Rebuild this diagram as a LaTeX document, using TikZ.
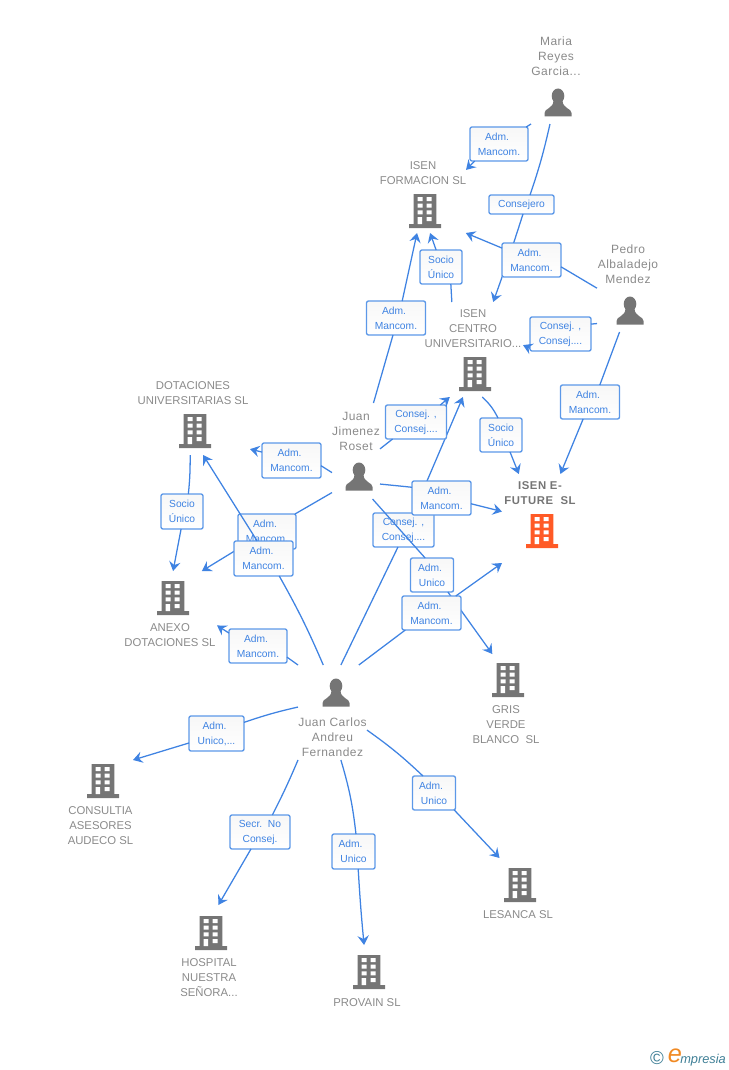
\documentclass[tikz,border=0pt]{standalone}
\usepackage{fontspec}
\setmainfont{Liberation Sans}
\usetikzlibrary{arrows.meta}
\definecolor{azul}{HTML}{3F83E2}
\definecolor{azulcaja}{HTML}{5C98E8}
\definecolor{grisicono}{HTML}{757575}
\definecolor{gristexto}{HTML}{8A8A8A}
\definecolor{naranja}{HTML}{FF5A26}
\definecolor{logoazul}{HTML}{3F7F96}
\definecolor{logonaranja}{HTML}{F08A24}
\newcommand{\adm}{Adm.\kern3pt}
\newcommand{\admu}{Adm.\kern4.5pt}
\tikzset{
    x=.75pt, y=-.75pt,
    >={Stealth[length=7pt,width=8.5pt,inset=2.5pt]},
    marco/.style 2 args={rectangle, inner sep=0pt, outer sep=0pt, minimum width=#1*.75pt, minimum height=#2*.75pt},
    caja/.style 2 args={rectangle, rounded corners=1.5pt, draw=azulcaja, line width=1pt, top color=black!3, bottom color=white,
        text=azul, align=center, inner sep=0pt, outer sep=0pt, minimum width=#1*.75pt, minimum height=#2*.75pt,
        font=\fontsize{7.7}{11.25}\selectfont},
    enlace/.style={draw=azul, line width=.95pt},
    nombre/.style={text=gristexto, align=center, inner sep=0pt, yshift=-.75pt, font=\fontsize{8.5}{11.25}\selectfont},
    gente/.style={nombre, font=\fontsize{9}{11.25}\selectfont\addfontfeature{LetterSpace=4}},
    pics/edificio/.style={code={
        \fill[#1] (-11.3,-17) rectangle (11.3,13) (-16,13) rectangle (16,17);
        \fill[white] (-7.5,-14) rectangle (-2.5,-10) (1.5,-14) rectangle (6.5,-10)
            (-7.5,-7.3) rectangle (-2.5,-3.3) (1.5,-7.3) rectangle (6.5,-3.3)
            (-7.5,-.6) rectangle (-2.5,3.4) (1.5,-.6) rectangle (6.5,3.4)
            (-7.5,6) rectangle (-3,13) (1.5,6) rectangle (6.5,10);
    }},
    pics/edificio/.default=grisicono,
    pics/persona/.style={code={
        \fill[grisicono] (0,-7) ellipse (6.3 and 7.5);
        \fill[grisicono] (-13.5,13.5) -- (-13.5,10) .. controls (-13.5,5.5) and (-5,5.5) .. (-4.5,-2)
            -- (4.5,-2) .. controls (5,5.5) and (13.5,5.5) .. (13.5,10) -- (13.5,13.5) -- cycle;
    }}
}
\begin{document}
\begin{tikzpicture}
    \useasboundingbox (0,0) rectangle (728,1070);

    % personas
    \node[marco={54}{91}] (maria) at (558,78.5) {};
    \node[gente] (marialbl) at (556,55.5) {Maria\\Reyes\\Garcia...};
    \pic at (558,103) {persona};
    \node[marco={63}{92}] (pedro) at (628.5,286) {};
    \node[gente] (pedrolbl) at (628,263) {Pedro\\Albaladejo\\Mendez};
    \pic at (630,311) {persona};
    \node[marco={48}{96}] (juanj) at (356,451) {};
    \node[gente] (juanjlbl) at (356,430) {Juan\\Jimenez\\Roset};
    \pic at (359,477) {persona};
    \node[marco={69}{95}] (juanc) at (332.5,712.5) {};
    \node[gente] (juanclbl) at (332.5,736) {Juan Carlos\\Andreu\\Fernandez};
    \pic at (336,693) {persona};

    % empresas
    \node[marco={87}{78}] (form) at (422.5,194) {};
    \node[nombre] (formlbl) at (423,172.5) {ISEN\\FORMACION SL};
    \pic at (425,211) {edificio};
    \node[marco={100}{95}] (centro) at (473,349.5) {};
    \node[nombre] (centrolbl) at (473,328) {ISEN\\CENTRO\\UNIVERSITARIO...};
    \pic at (475,374) {edificio};
    \node[marco={79}{89}] (future) at (541.5,518.5) {};
    \node[nombre, text=grisicono, font=\fontsize{8.5}{11.25}\bfseries\selectfont\addfontfeature{LetterSpace=5}] (futurelbl) at (540,492.5) {ISEN E-\\FUTURE\ \ SL};
    \pic at (542,531) {edificio=naranja};
    \node[marco={113}{77}] (dot) at (193.5,416.5) {};
    \node[nombre] (dotlbl) at (193,392.5) {DOTACIONES\\UNIVERSITARIAS SL};
    \pic at (195,431) {edificio};
    \node[marco={92}{79}] (anexo) at (171,610.5) {};
    \node[nombre] (anexolbl) at (170,634.5) {ANEXO\\DOTACIONES SL};
    \pic at (173,598) {edificio};
    \node[marco={73}{94}] (gris) at (508.5,701) {};
    \node[nombre] (grislbl) at (506,724) {GRIS\\VERDE\\BLANCO\ \ SL};
    \pic at (508,680) {edificio};
    \node[marco={65}{88}] (consul) at (100.5,804) {};
    \node[nombre] (consullbl) at (100.5,825) {CONSULTIA\\ASESORES\\AUDECO SL};
    \pic at (103,781) {edificio};
    \node[marco={60}{95}] (hosp) at (210,952.5) {};
    \node[nombre] (hosplbl) at (209,977) {HOSPITAL\\NUESTRA\\SEÑORA...};
    \pic at (211,933) {edificio};
    \node[marco={69}{65}] (prov) at (367.5,977.5) {};
    \node[nombre] (provlbl) at (367,1002) {PROVAIN SL};
    \pic at (369,972) {edificio};
    \node[marco={72}{64}] (les) at (518,890) {};
    \node[nombre] (leslbl) at (518,914) {LESANCA SL};
    \pic at (520,885) {edificio};

    % enlaces de Maria
    \node[caja={58}{34}] (m1) at (499,144) {\adm\\Mancom.};
    \draw[enlace] (maria.south west) -- (m1.32);
    \draw[enlace,->] (m1.215) -- (form.29);
    \node[caja={65}{19}] (m2) at (521.5,204.5) {Consejero};
    \draw[enlace] (maria.-100) to[bend left=3] (m2.48);
    \draw[enlace,->] (m2.-81) to[bend left=1] (centro.67);

    % enlaces de Pedro
    \node[caja={59}{34}] (p1) at (531.5,260) {\adm\\Mancom.};
    \draw[enlace] (pedro.184) -- (p1.-13);
    \draw[enlace,->] (p1.158) -- (form.-42.5);
    \node[caja={61}{34}] (p2) at (560.5,334) {Consej. ,\\Consej....};
    \draw[enlace] (pedro.230) -- (p2.18);
    \draw[enlace,->] (p2.205) -- (centro.5);
    \node[caja={59}{34}] (p3) at (590,402) {\adm\\Mancom.};
    \draw[enlace] (pedro.-101.7) -- (p3.60);
    \draw[enlace,->] (p3.-112) -- (future.67.4);

    % centro y formacion
    \node[caja={42}{34}] (c1) at (441,267) {Socio\\Único};
    \draw[enlace] (centro.114) -- (c1.-60);
    \draw[enlace,->] (c1.106) -- (form.-79);
    \node[caja={42}{34}] (c2) at (501,435) {Socio\\Único};
    \draw[enlace] (centro.-79) to[bend left=10] (c2.100);
    \draw[enlace,->] (c2.-62) -- (future.117.8);

    % enlaces de Juan Carlos, primera parte
    \node[caja={61}{34}] (jc1) at (403.5,530) {Consej. ,\\Consej....};
    \draw[enlace] (juanc.80) -- (jc1.-108);
    \draw[enlace,->] (jc1.60.8) -- (centro.-102);

    % enlaces de Juan Jimenez
    \node[caja={59}{34}] (j1) at (396,318) {\adm\\Mancom.};
    \draw[enlace] (juanj.70.5) -- (j1.-100);
    \draw[enlace,->] (j1.70) -- (form.-98);
    \node[caja={61}{34}] (j2) at (416,422) {Consej. ,\\Consej....};
    \draw[enlace] (juanj.5) -- (j2.216);
    \draw[enlace,->] (j2.35) -- (centro.-116);
    \node[caja={59}{34}] (j3) at (441.5,498) {\adm\\Mancom.};
    \draw[enlace] (juanj.-54.8) -- (j3.160);
    \draw[enlace,->] (j3.-11.5) -- (future.170.6);
    \node[caja={43}{34}] (j4) at (432,575) {\adm\\Unico};
    \draw[enlace] (juanj.-71.6) -- (j4.112);
    \draw[enlace,->] (j4.-47) -- (gris.109);
    \node[caja={59}{35}] (j5) at (291.5,460.5) {\adm\\Mancom.};
    \draw[enlace] (juanj.222.5) -- (j5.-10.6);
    \draw[enlace,->] (j5.164) -- (dot.-30.7);
    \node[caja={58}{35}] (j6) at (267,531.5) {\adm\\Mancom.};
    \draw[enlace] (juanj.240.8) -- (j6.32);
    \draw[enlace,->] (j6.211) -- (anexo.52);

    % dotaciones
    \node[caja={42}{35}] (d1) at (182,511.5) {Socio\\Único};
    \draw[enlace] (dot.-95) to[bend left=3] (d1.70);
    \draw[enlace,->] (d1.-93) -- (anexo.87);

    % enlaces de Juan Carlos
    \node[caja={59}{35}] (jc2) at (263.5,558.5) {\adm\\Mancom.};
    \draw[enlace] (juanc.101.3) to[bend right=3] (jc2.-48.5);
    \draw[enlace,->] (jc2.110) -- (dot.-76);
    \node[caja={59}{34}] (jc3) at (431.5,613) {\adm\\Mancom.};
    \draw[enlace] (juanc.61) -- (jc3.213.7);
    \draw[enlace,->] (jc3.35) -- (future.south west);
    \node[caja={58}{34}] (jc4) at (258,646) {\adm\\Mancom.};
    \draw[enlace] (juanc.north west) -- (jc4.-21);
    \draw[enlace,->] (jc4.156) -- (anexo.-18.6);
    \node[caja={55}{35}] (jc5) at (216.5,733.5) {\adm\\Unico,...};
    \draw[enlace] (juanc.171) to[bend right=3] (jc5.22.7);
    \draw[enlace,->] (jc5.199) -- (consul.north east);
    \node[caja={60}{34}] (jc6) at (260,832) {Secr.\ \ No\\Consej.};
    \draw[enlace] (juanc.234) to[bend left=2] (jc6.54.8);
    \draw[enlace,->] (jc6.-118) -- (hosp.80.4);
    \node[caja={43}{35}] (jc7) at (353.5,851.5) {\admu\\Unico};
    \draw[enlace] (juanc.-80) to[bend left=5] (jc7.82);
    \draw[enlace,->] (jc7.-75.6) to[bend right=1] (prov.96);
    \node[caja={43}{34}] (jc8) at (434,793) {\admu\\Unico};
    \draw[enlace] (juanc.-27) to[bend left=4] (jc8.123);
    \draw[enlace,->] (jc8.-40) -- (les.120.7);

    % logo
    \node[text=logoazul, inner sep=0pt, font=\fontsize{14}{14}\selectfont] (logoc) at (657,1058.5) {©};
    \node[text=logonaranja, inner sep=0pt, font=\fontsize{19}{19}\itshape\selectfont] (logoe) at (675,1056) {e};
    \node[text=logoazul, inner sep=0pt, anchor=west, font=\fontsize{9.6}{10}\itshape\selectfont] (logot) at (680,1060) {mpresia};
\end{tikzpicture}
\end{document}
